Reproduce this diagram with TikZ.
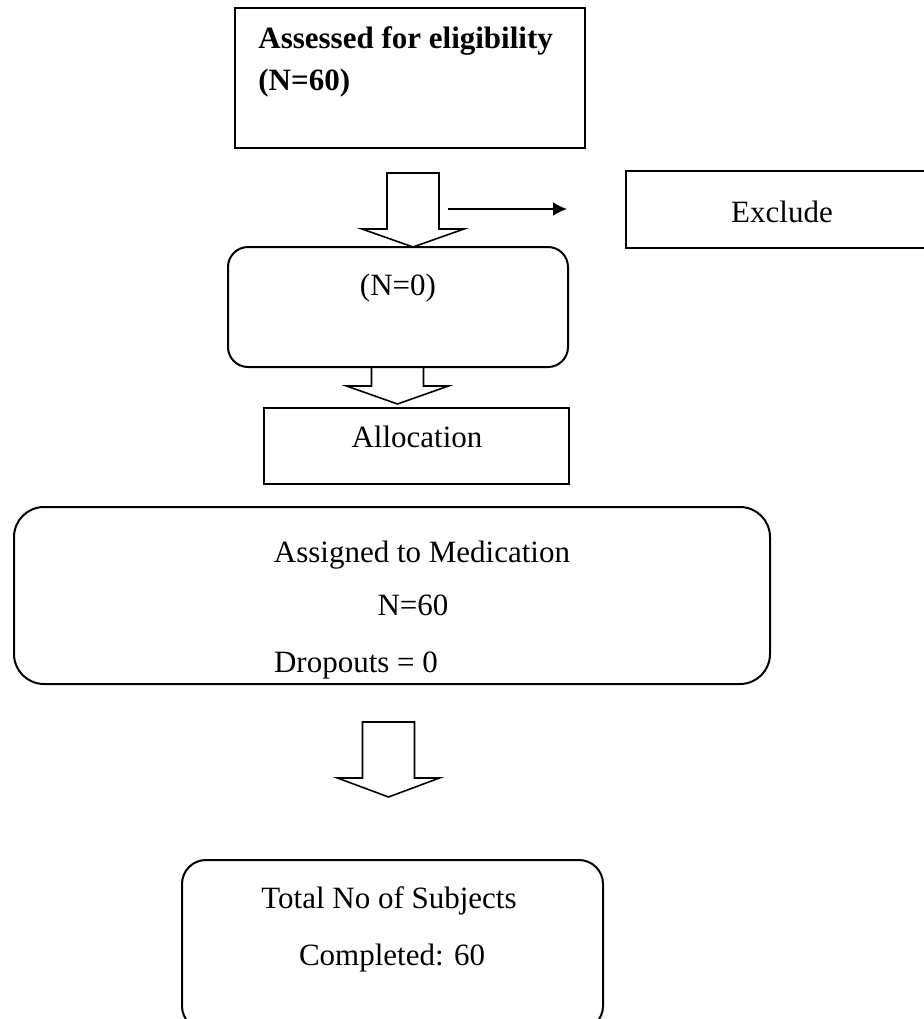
\documentclass[tikz,border=0pt]{standalone}
\usepackage{fontspec}
\setmainfont{Liberation Serif}
\usetikzlibrary{arrows.meta}

% hollow block arrow: centre x, top, shoulder, tip
\newcommand{\blockarrow}[4]{%
  \draw[arrowline] (#1-26,#2) -- (#1+26,#2) -- (#1+26,#3) -- (#1+51,#3)
    -- (#1,#4) -- (#1-51,#3) -- (#1-26,#3) -- cycle;}

\begin{document}
\begin{tikzpicture}[x=0.5pt, y=-0.5pt,
    font=\fontsize{15.5}{21}\selectfont,
    box/.style={draw, line width=1pt, inner sep=0},
    roundbox/.style={box, rounded corners=#1},
    txt/.style={anchor=base, inner sep=0},
    arrowline/.style={line width=0.8pt, line join=miter},
]
    \useasboundingbox (0,0) rectangle (923,1019);

    \node[box, minimum width=175pt, minimum height=70pt] (assess) at (410,78) {};
    \node[box, minimum width=157pt, minimum height=38.5pt] (excl) at (783,209.5) {};
    \node[roundbox=10pt, minimum width=170pt, minimum height=60pt] (screen) at (398,307) {};
    \node[box, minimum width=152.5pt, minimum height=38pt] (alloc) at (416.5,446) {};
    \node[roundbox=15pt, minimum width=378pt, minimum height=88.5pt] (assign) at (392,595.5) {};
    \node[roundbox=12pt, minimum width=210.5pt, minimum height=85pt] (done) at (392.5,945) {};

    \node[txt, anchor=base west, font=\fontsize{15.5}{21}\selectfont\bfseries] (assesst1) at (258,48) {Assessed for eligibility};
    \node[txt, anchor=base west, font=\fontsize{15.5}{21}\selectfont\bfseries] (assesst2) at (258,90) {(N=60)};
    \node[txt] (exclt) at (782,222) {Exclude};
    \node[txt] (screent) at (398,295) {(N=0)};
    \node[txt] (alloct) at (417,447) {Allocation};
    \node[txt] (assignt1) at (422,562) {Assigned to Medication};
    \node[txt] (assignt2) at (413,615) {N=60};
    \node[txt] (assignt3) at (356,672) {Dropouts = 0};
    \node[txt] (donet1) at (389,908) {Total No of Subjects};
    \node[txt] (donet2) at (392,965) {Completed: 60};

    \blockarrow{413}{173}{229}{247}
    \blockarrow{397.5}{367}{386}{404}
    \blockarrow{388.5}{722}{778}{797}

    \coordinate (exfrom) at (448,209);
    \coordinate (exto) at (567,209);
    \draw[line width=0.85pt, -{Latex[length=7pt,width=7pt]}] (exfrom) -- (exto);
\end{tikzpicture}
\end{document}
